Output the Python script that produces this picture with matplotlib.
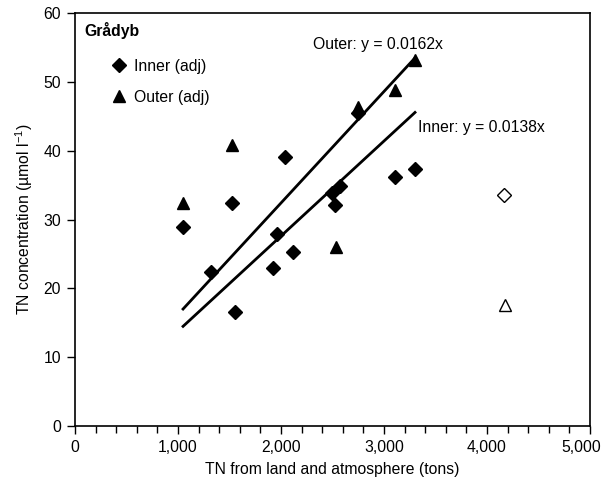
import numpy as np
import matplotlib
matplotlib.use("Agg")
import matplotlib.pyplot as plt
import matplotlib.transforms as mtransforms
from matplotlib.ticker import MultipleLocator
from matplotlib.lines import Line2D

plt.rcParams['font.family'] = ['Liberation Sans', 'DejaVu Sans']
plt.rcParams['mathtext.fontset'] = 'custom'
plt.rcParams['mathtext.rm'] = 'Liberation Sans'
plt.rcParams['mathtext.it'] = 'Liberation Sans:italic'

# Inner (adj) - filled diamonds
inner_x = [1049, 1320, 1524, 1553, 1922, 1961, 2039, 2117, 2495, 2524, 2573, 2748, 3107, 3301]
inner_y = [28.9, 22.4, 32.4, 16.6, 23.0, 27.9, 39.1, 25.3, 33.9, 32.1, 34.9, 45.4, 36.2, 37.3]

# Outer (adj) - filled triangles
outer_x = [1049, 1524, 2534, 2748, 3107, 3301]
outer_y = [32.4, 40.8, 26.0, 46.4, 48.8, 53.2]

# excluded points (open symbols)
inner_excl_x = [4165]
inner_excl_y = [33.6]
outer_excl_x = [4175]
outer_excl_y = [17.6]

# regression through origin
inner_slope = 0.0138
outer_slope = 0.0162
fit_range = [1049, 3301]

xticks = [0, 1000, 2000, 3000, 4000, 5000]
xticklabels = ['0', '1,000', '2,000', '3,000', '4,000', '5,000']
yticks = [0, 10, 20, 30, 40, 50, 60]

fs = 11.3

fig = plt.figure(figsize=(6.06, 4.94), dpi=100)
ax = fig.add_axes([75/606, 68/494, 515/606, 413/494])

fx = np.array(fit_range)
ax.plot(fx, outer_slope * fx, color='black', lw=2, zorder=2)
ax.plot(fx, inner_slope * fx, color='black', lw=2, zorder=2)

ax.plot(inner_x, inner_y, 'D', color='black', ms=7, ls='none', zorder=3)
ax.plot(outer_x, outer_y, '^', color='black', ms=9, ls='none', zorder=3)
ax.plot(inner_excl_x, inner_excl_y, 'D', mfc='white', mec='black', mew=1, ms=7, ls='none')
ax.plot(outer_excl_x, outer_excl_y, '^', mfc='white', mec='black', mew=1, ms=9, ls='none')

ax.text(2311, 55.4, 'Outer: y = 0.0162x', fontsize=fs, va='center', ha='left')
ax.text(3330, 43.4, 'Inner: y = 0.0138x', fontsize=fs, va='center', ha='left')
ax.text(0.018, 0.958, 'Grådyb', transform=ax.transAxes, fontsize=fs, fontweight='bold', va='center')

handles = [Line2D([], [], marker='D', color='black', ls='none', ms=7),
           Line2D([], [], marker='^', color='black', ls='none', ms=9)]
ax.legend(handles, ['Inner (adj)', 'Outer (adj)'], loc='upper left', bbox_to_anchor=(0.055, 0.905),
          frameon=False, fontsize=fs, handletextpad=0.35, labelspacing=1.05, borderaxespad=0,
          handlelength=1.2)

ax.set_xlim(0, 5000)
ax.set_ylim(0, 60)
ax.set_xticks(xticks)
ax.set_xticklabels(xticklabels)
ax.xaxis.set_minor_locator(MultipleLocator(200))
ax.set_yticks(yticks)
ax.tick_params(axis='both', direction='out', labelsize=fs, width=1, length=6, pad=4)
ax.tick_params(axis='x', which='minor', direction='out', length=5, width=1)
for s in ax.spines.values():
    s.set_linewidth(1.2)

# keep the last tick label inside the figure
last = ax.get_xticklabels()[-1]
last.set_transform(last.get_transform() + mtransforms.ScaledTranslation(-6/72, 0, fig.dpi_scale_trans))

ax.set_xlabel('TN from land and atmosphere (tons)', fontsize=fs, labelpad=5)
ax.set_ylabel('TN concentration (µmol l$^{-1}$)', fontsize=fs, labelpad=6)

fig.savefig('out.png', dpi=100)
